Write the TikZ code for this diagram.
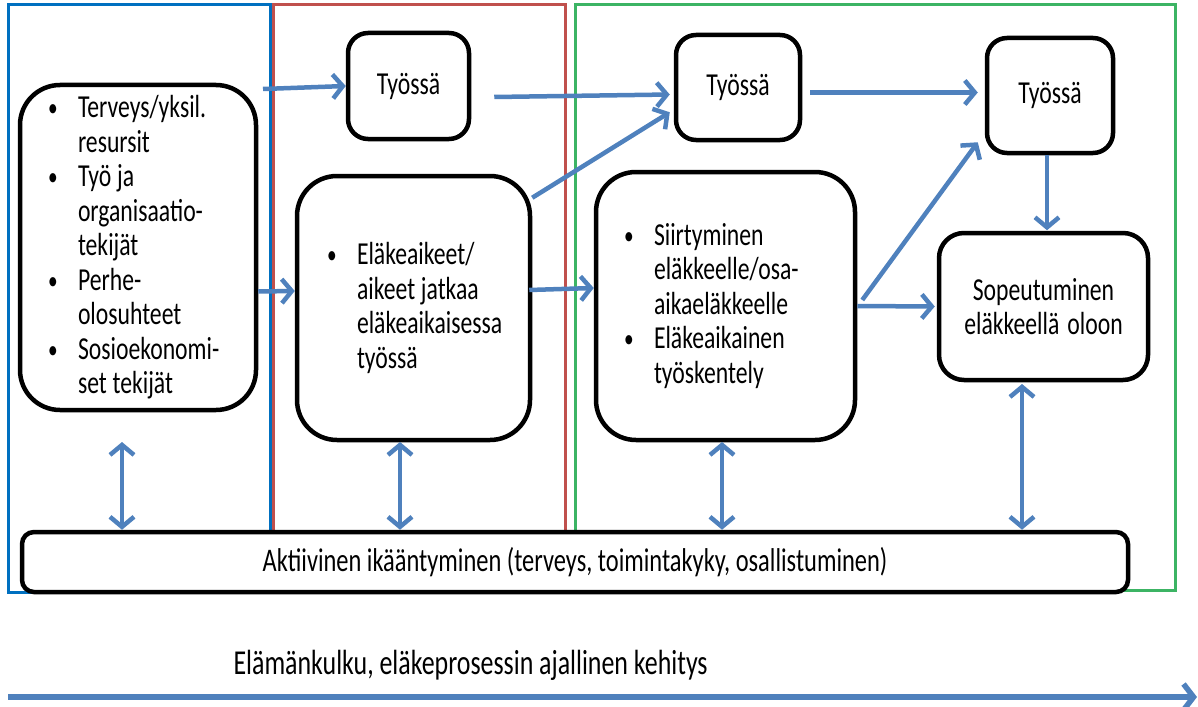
\documentclass[tikz,border=0pt]{standalone}
\usepackage{fontspec}
\setmainfont{Carlito}[FakeStretch=0.74]
\usetikzlibrary{arrows.meta,calc}
\definecolor{arr}{RGB}{79,129,189}
\definecolor{fblue}{RGB}{0,112,192}
\definecolor{fred}{RGB}{192,80,77}
\definecolor{fgreen}{RGB}{60,180,100}
\newcommand{\bi}{\makebox[30pt][l]{\raisebox{1pt}{\fontsize{26}{26}\selectfont\textbullet}}}
\newcommand{\ind}{\hspace*{30pt}}
\newcommand{\tightsp}{\spaceskip=5.8pt\relax\xspaceskip=6.5pt\relax}
\begin{document}
\begin{tikzpicture}[x=1pt,y=-1pt,
  box/.style={draw=black,line width=4.5pt,rounded corners=40pt,fill=white,inner sep=0pt,font=\fontsize{32}{34.5}\selectfont},
  smallbox/.style={draw=black,line width=4.5pt,rounded corners=20pt,fill=white,inner sep=0pt,font=\fontsize{32}{34.5}\selectfont},
  con/.style={draw=arr,line width=4.5pt,-{Straight Barb[length=10pt,width=24pt]}},
  dcon/.style={draw=arr,line width=4.5pt,{Straight Barb[length=10pt,width=24pt]}-{Straight Barb[length=10pt,width=24pt]}},
  frame/.style={line width=3pt},
  txt/.style={font=\fontsize{35}{38}\selectfont}
]
\useasboundingbox (0,0) rectangle (1198,706);
% frames
\draw[frame,fblue] (8,5) rectangle (270,592);
\draw[frame,fred] (273,5) rectangle (565,590);
\draw[frame,fgreen] (575,5) rectangle (1175,590);
% boxes
\node[box,minimum width=236pt,minimum height=325pt,text width=180pt,align=left] (left) at (138,247.5)
 {\tightsp\bi Terveys/yksil.\\ \ind resursit\\ \bi Työ ja\\ \ind organisaatio-\\ \ind tekijät\\ \bi Perhe-\\ \ind olosuhteet\\ \bi Sosioekonomi-\\ \ind set tekijät};
\node[smallbox,minimum width=121pt,minimum height=106pt] (t1) at (408.5,86) {Työssä};
\node[box,minimum width=233pt,minimum height=264pt,text width=173pt,align=left] (e) at (413.5,308)
 {\tightsp\bi Eläkeaikeet/\\ \ind aikeet jatkaa\\ \ind eläkeaikaisessa\\ \ind työssä};
\node[smallbox,minimum width=124pt,minimum height=105pt] (t2) at (738,87.5) {Työssä};
\node[box,minimum width=259pt,minimum height=268pt,text width=203pt,align=left] (s) at (725.5,306)
 {\tightsp\bi Siirtyminen\\ \ind eläkkeelle/osa-\\ \ind aikaeläkkeelle\\ \bi Eläkeaikainen\\ \ind työskentely};
\node[smallbox,minimum width=126pt,minimum height=115pt] (t3) at (1050,95.5) {Työssä};
\node[smallbox,rounded corners=25pt,minimum width=209pt,minimum height=147pt,align=center] (sop) at (1043.5,306.5)
 {\tightsp Sopeutuminen\\eläkkeellä\hspace{8pt}oloon};
\node[draw=black,line width=4.5pt,rounded corners=12pt,fill=white,minimum width=1106pt,minimum height=60pt,font=\fontsize{33}{36}\selectfont] (bar) at (575,562)
 {Aktiivinen ikääntyminen (terveys, toimintakyky, osallistuminen)};
% connectors
\coordinate (c1) at (263,89);
\draw[con] (c1) -- (t1.west);
\draw[con] ($(t1.east)+(23,11)$) -- ($(t2.west)+(-4,7)$);
\draw[con] ($(e.north east)+(0,24)$) -- ($(t2.south west)+(-4,-30)$);
\draw[con] ($(left.east)+(0,44)$) -- ($(e.west)+(0,-17)$);
\draw[con] ($(e.east)+(-3,-18)$) -- ($(s.west)+(0,-18)$);
\draw[con] ($(t2.east)+(8,5)$) -- ($(t3.west)+(-7,-3)$);
\draw[con] ($(s.east)+(5,-6)$) -- ($(t3.south west)+(-7,-13)$);
\draw[con] (s.east) -- ($(sop.west)+(-2,0)$);
\draw[con] ($(t3.south)+(-3,0)$) -- ($(t3.south)+(-3,75)$);
\coordinate (d1) at (122,442);
\coordinate (d2) at (400,442);
\coordinate (d3) at (722,442);
\coordinate (d4) at (1022,384);
\draw[dcon] (d1) -- (d1 |- bar.north);
\draw[dcon] (d2) -- (d2 |- bar.north);
\draw[dcon] (d3) -- (d3 |- bar.north);
\draw[dcon] (d4) -- (d4 |- bar.north);
% timeline
\node[txt,anchor=base west] (life) at (230,674) {Elämänkulku, eläkeprosessin ajallinen kehitys};
\coordinate (a0) at (8,697);
\coordinate (a1) at (1197,697);
\draw[draw=arr,line width=5.5pt,-{Straight Barb[length=10pt,width=26pt]}] (a0) -- (a1);
\end{tikzpicture}
\end{document}
